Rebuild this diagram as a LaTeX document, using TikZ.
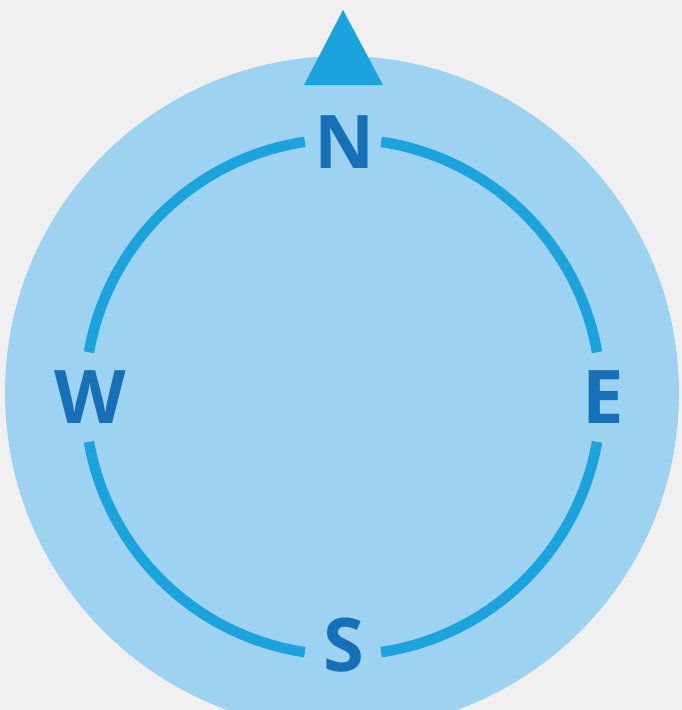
\documentclass[tikz,border=0pt]{standalone}
\usepackage{fontspec}
\setmainfont{Open Sans}
\definecolor{bgc}{HTML}{F0F0F0}
\definecolor{discc}{HTML}{9DD3F0}
\definecolor{ringc}{HTML}{1BA3DD}
\definecolor{letc}{HTML}{1570B8}
\begin{document}
\begin{tikzpicture}[x=1pt,y=-1pt,
  ringarc/.style={draw=ringc,line width=10.5pt},
  dirlabel/.style={text=letc,font=\fontsize{74}{74}\selectfont\bfseries,inner sep=0pt,anchor=base}]
\fill[bgc] (0,0) rectangle (682,710);
\useasboundingbox (0,0) rectangle (682,710);
\begin{scope}
\clip (0,0) rectangle (682,710);
\fill[discc] (342,393) circle[radius=337];
\end{scope}
\coordinate (c) at (343,397);
\foreach \a/\b in {10/81.5, 98.5/170, 190/261.5, 278.5/350}{
  \draw[ringarc] ([shift={(\a:258 and -258)}]c) arc[start angle=-\a,end angle=-\b,radius=258];
}
\fill[ringc] (343,10) -- (383,85) -- (304,85) -- cycle;
\node[dirlabel] (n) at (345,168) {N};
\node[dirlabel] (w) at (90,423) {W};
\node[dirlabel] (e) at (603,423) {E};
\node[dirlabel] (s) at (344,671) {S};
\end{tikzpicture}
\end{document}
